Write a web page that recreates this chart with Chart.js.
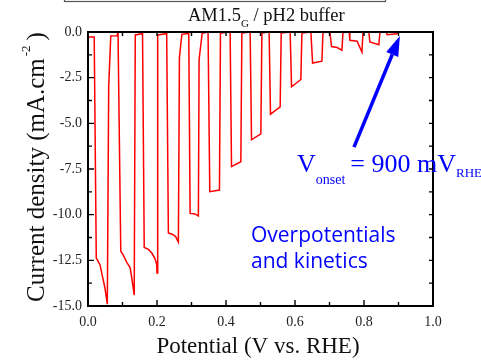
<!DOCTYPE html>
<html>
<head>
<meta charset="utf-8">
<script src="https://cdn.jsdelivr.net/npm/chart.js@4.4.1/dist/chart.umd.min.js"></script>
<style>
  html, body { margin: 0; padding: 0; background: #fff; }
  canvas { display: block; }
</style>
</head>
<body>
<canvas id="chart" width="481" height="361"></canvas>
<script>
// chopped-light sweep
const potential = [
  0.000, 0.018, 0.024, 0.035, 0.041, 0.049, 0.056, 0.060, 0.066, 0.084, 0.087,
  0.095, 0.102, 0.112, 0.122, 0.128, 0.134, 0.137, 0.155, 0.158,
  0.163, 0.175, 0.185, 0.194, 0.199, 0.200, 0.202, 0.225, 0.228,
  0.233, 0.244, 0.254, 0.262, 0.265, 0.272, 0.290, 0.292,
  0.296, 0.310, 0.320, 0.322, 0.331, 0.348,
  0.353, 0.381, 0.384, 0.412,
  0.416, 0.443, 0.446, 0.470,
  0.474, 0.501, 0.504, 0.525,
  0.529, 0.557, 0.560, 0.586,
  0.590, 0.617, 0.620, 0.646,
  0.651, 0.678, 0.681, 0.701,
  0.706, 0.722, 0.736, 0.739, 0.757,
  0.759, 0.780, 0.794, 0.797, 0.814,
  0.817, 0.843, 0.846, 0.864,
  0.867, 0.896, 0.899, 0.905
];
const current = [
  -0.28, -0.28, -12.37, -12.75, -13.3, -14.0, -14.9, -3.0, -0.22, -0.2, 0.0,
  -12.0, -12.2, -12.6, -12.9, -13.6, -14.4, -0.16, -0.1, 0.0,
  -11.8, -11.9, -12.1, -12.4, -12.7, -13.2, -0.16, -0.1, 0.0,
  -11.0, -11.07, -11.2, -11.5, -1.4, -0.13, -0.08, 0.0,
  -9.93, -9.96, -10.07, -1.5, -0.07, 0.0,
  -8.74, -8.65, -0.05, 0.0,
  -7.37, -7.1, -0.05, 0.0,
  -5.9, -5.58, -0.05, 0.0,
  -4.5, -4.1, -0.05, 0.0,
  -3.0, -2.6, -0.05, 0.0,
  -1.7, -1.6, -0.03, 0.0,
  -0.8, -0.85, -1.0, -0.03, 0.0,
  -0.45, -0.5, -1.1, -0.03, 0.0,
  -0.55, -0.7, -0.03, 0.0,
  -0.15, -0.1, 0.0, 0.0
];

const xTickValues = [0, 0.2, 0.4, 0.6, 0.8, 1.0];
const xMinorValues = [0.1, 0.3, 0.5, 0.7, 0.9];
const yTickValues = [0, -2.5, -5, -7.5, -10, -12.5, -15];
const yMinorValues = [-1.25, -3.75, -6.25, -8.75, -11.25, -13.75];

// arrow pointing at the onset (data coords)
const arrowFrom = { x: 0.771, y: -6.3 };
const arrowTo = { x: 0.904, y: -0.22 };

const SERIF = '"Liberation Serif", "Times New Roman", serif';
const SANS = '"Open Sans", sans-serif';

function drawRuns(ctx, x, y, runs) {
  runs.forEach(r => {
    ctx.font = r.size + 'px ' + (r.family || SERIF);
    ctx.fillText(r.text, x, y + (r.dy || 0));
    x += ctx.measureText(r.text).width + (r.gap || 0);
  });
  return x;
}
function runsWidth(ctx, runs) {
  let w = 0;
  runs.forEach(r => {
    ctx.font = r.size + 'px ' + (r.family || SERIF);
    w += ctx.measureText(r.text).width + (r.gap || 0);
  });
  return w;
}

const decor = {
  id: 'decor',
  afterDraw(chart) {
    const { ctx, chartArea: a, scales: { x, y } } = chart;
    ctx.save();

    // frame
    ctx.strokeStyle = '#000';
    ctx.lineWidth = 2;
    ctx.strokeRect(a.left, a.top, a.right - a.left, a.bottom - a.top);

    // inward ticks on all four sides
    ctx.lineWidth = 1.4;
    ctx.beginPath();
    xTickValues.concat(xMinorValues).forEach((v, i) => {
      const px = x.getPixelForValue(v);
      const len = i < xTickValues.length ? 6 : 4;
      ctx.moveTo(px, a.bottom); ctx.lineTo(px, a.bottom - len);
      ctx.moveTo(px, a.top); ctx.lineTo(px, a.top + 4);
    });
    yTickValues.concat(yMinorValues).forEach((v, i) => {
      const py = y.getPixelForValue(v);
      const len = i < yTickValues.length ? 6 : 4;
      ctx.moveTo(a.left, py); ctx.lineTo(a.left + len, py);
      ctx.moveTo(a.right, py); ctx.lineTo(a.right - 4, py);
    });
    ctx.stroke();

    // cropped legend box at the very top
    ctx.strokeStyle = '#555';
    ctx.lineWidth = 1.2;
    ctx.strokeRect(64.5, -10, 321, 11.5);

    ctx.fillStyle = '#111';
    ctx.textBaseline = 'alphabetic';
    ctx.textAlign = 'left';
    drawRuns(ctx, 188, 21, [
      { text: 'AM1.5', size: 18.5 },
      { text: 'G', size: 11, dy: 6 },
      { text: ' / pH2 buffer', size: 18.5 }
    ]);

    // x title
    const xt = [{ text: 'Potential (V vs. RHE)', size: 23 }];
    drawRuns(ctx, 258 - runsWidth(ctx, xt) / 2, 353, xt);

    // y title (rotated)
    const yt = [
      { text: 'Current density (mA.cm', size: 25, gap: 2 },
      { text: '-2', size: 13, dy: -14, gap: 5 },
      { text: ')', size: 25 }
    ];
    ctx.save();
    ctx.translate(44, 167);
    ctx.rotate(-Math.PI / 2);
    drawRuns(ctx, -runsWidth(ctx, yt) / 2, 0, yt);
    ctx.restore();

    // arrow
    const x0 = x.getPixelForValue(arrowFrom.x), y0 = y.getPixelForValue(arrowFrom.y);
    const x1 = x.getPixelForValue(arrowTo.x), y1 = y.getPixelForValue(arrowTo.y);
    const ang = Math.atan2(y1 - y0, x1 - x0);
    const head = 20, half = 6.5;
    const bx = x1 - head * Math.cos(ang), by = y1 - head * Math.sin(ang);
    ctx.strokeStyle = '#0000ff';
    ctx.fillStyle = '#0000ff';
    ctx.lineWidth = 3.5;
    ctx.beginPath();
    ctx.moveTo(x0, y0);
    ctx.lineTo(bx, by);
    ctx.stroke();
    ctx.beginPath();
    ctx.moveTo(x1, y1);
    ctx.lineTo(bx + half * Math.sin(ang), by - half * Math.cos(ang));
    ctx.lineTo(bx - half * Math.sin(ang), by + half * Math.cos(ang));
    ctx.closePath();
    ctx.fill();

    // onset annotation
    drawRuns(ctx, 297, 172, [
      { text: 'V', size: 26 },
      { text: 'onset', size: 14, dy: 12, gap: 5 },
      { text: '= 900 mV', size: 26 },
      { text: 'RHE', size: 13, dy: 5 }
    ]);

    drawRuns(ctx, 251, 242, [{ text: 'Overpotentials', size: 21, family: SANS }]);
    drawRuns(ctx, 251, 268, [{ text: 'and kinetics', size: 21, family: SANS }]);

    ctx.restore();
  }
};

const points = potential.map((v, i) => ({ x: v, y: current[i] }));

new Chart(document.getElementById('chart'), {
  type: 'scatter',
  data: {
    datasets: [{
      data: points,
      showLine: true,
      borderColor: '#ff0000',
      borderWidth: 1.5,
      pointRadius: 0,
      tension: 0
    }]
  },
  options: {
    responsive: false,
    animation: false,
    devicePixelRatio: 1,
    layout: { padding: { top: 32, right: 48, left: 0, bottom: 0 } },
    plugins: { legend: { display: false }, tooltip: { enabled: false } },
    scales: {
      x: {
        type: 'linear',
        min: 0, max: 1,
        afterBuildTicks: s => { s.ticks = xTickValues.map(v => ({ value: v })); },
        afterFit: s => { s.height = 55; },
        grid: { display: false, drawTicks: false },
        border: { display: false },
        ticks: {
          padding: 8,
          color: '#222',
          font: { family: SERIF, size: 14 },
          callback: v => v.toFixed(1)
        }
      },
      y: {
        type: 'linear',
        min: -15, max: 0,
        afterBuildTicks: s => { s.ticks = yTickValues.map(v => ({ value: v })); },
        afterFit: s => { s.width = 88; },
        grid: { display: false, drawTicks: false },
        border: { display: false },
        ticks: {
          padding: 6,
          color: '#222',
          font: { family: SERIF, size: 14 },
          callback: v => v.toFixed(1)
        }
      }
    }
  },
  plugins: [decor]
});
</script>
</body>
</html>
